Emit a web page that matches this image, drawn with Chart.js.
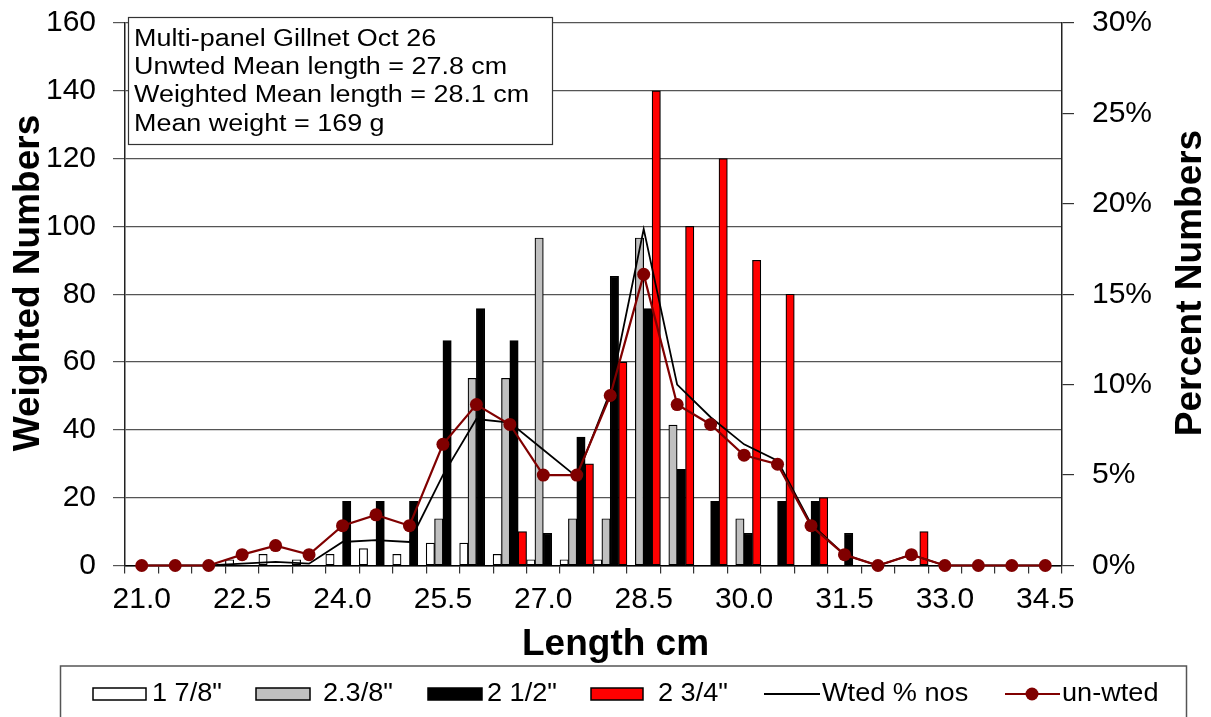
<!DOCTYPE html>
<html lang="en">
<head>
<meta charset="UTF-8">
<title>Multi-panel Gillnet Oct 26</title>
<script src="https://cdn.jsdelivr.net/npm/chart.js"></script>
<style>
  body { margin: 0; background: #fff; }
  .wrap { width: 1211px; height: 717px; position: relative; }
</style>
</head>
<body>
<div class="wrap"><canvas id="lengthChart"></canvas></div>
<script>
// length classes, cm
const lengths = ['21.0', '21.5', '22.0', '22.5', '23.0', '23.5', '24.0', '24.5', '25.0', '25.5',
                 '26.0', '26.5', '27.0', '27.5', '28.0', '28.5', '29.0', '29.5', '30.0', '30.5',
                 '31.0', '31.5', '32.0', '32.5', '33.0', '33.5', '34.0', '34.5'];

// weighted numbers per mesh size
const mesh178 = [0, 0, 0, 1.7, 3.3, 1.7, 3.3, 5.0, 3.3, 6.6, 6.6, 3.3, 1.7, 1.7, 1.7, 0, 0, 0, 0, 0, 0, 0, 0, 0, 0, 0, 0, 0];
const mesh238 = [0, 0, 0, 0, 0, 0, 0, 0, 0, 13.8, 55.2, 55.2, 96.6, 13.8, 13.8, 96.6, 41.4, 0, 13.8, 0, 0, 0, 0, 0, 0, 0, 0, 0];
const mesh212 = [0, 0, 0, 0, 0, 0, 18.9, 18.9, 18.9, 66.3, 75.8, 66.3, 9.5, 37.9, 85.3, 75.8, 28.4, 18.9, 9.5, 18.9, 18.9, 9.5, 0, 0, 0, 0, 0, 0];
const mesh234 = [0, 0, 0, 0, 0, 0, 0, 0, 0, 0, 0, 10, 0, 30, 60, 140, 100, 120, 90, 80, 20, 0, 0, 10, 0, 0, 0, 0];

// percent of numbers
const wtedPct = [0, 0, 0, 0.1, 0.2, 0.1, 1.3, 1.4, 1.3, 5.0, 8.1, 7.9, 6.4, 4.9, 9.6, 18.6, 10.0, 8.2, 6.7, 5.8, 2.3, 0.6, 0, 0.6, 0, 0, 0, 0];
const unwtedPct = [0, 0, 0, 0.6, 1.1, 0.6, 2.2, 2.8, 2.2, 6.7, 8.9, 7.8, 5.0, 5.0, 9.4, 16.1, 8.9, 7.8, 6.1, 5.6, 2.2, 0.6, 0, 0.6, 0, 0, 0, 0];

const boxLines = ['Multi-panel Gillnet Oct 26', 'Unwted Mean length = 27.8 cm',
                  'Weighted Mean length = 28.1 cm', 'Mean weight = 169 g'];

const FONT = '"Liberation Sans", Arial, sans-serif';
Chart.defaults.font.family = FONT;
Chart.defaults.color = '#000';

// text box, legend and axis titles drawn on top
const extras = {
    id: 'extras',
    afterDraw(chart) {
        const ctx = chart.ctx;
        ctx.save();

        // stats box
        ctx.fillStyle = '#fff';
        ctx.fillRect(128, 17.5, 424, 127);
        ctx.strokeStyle = '#333';
        ctx.lineWidth = 1.2;
        ctx.strokeRect(128.5, 17.5, 424, 127);
        ctx.fillStyle = '#000';
        ctx.font = '23px ' + FONT;
        ctx.textAlign = 'left';
        ctx.textBaseline = 'alphabetic';
        boxLines.forEach((t, i) => {
            ctx.save();
            ctx.translate(134, 46 + i * 28.2);
            ctx.scale(1.17, 1);
            ctx.fillText(t, 0, 0);
            ctx.restore();
        });

        // axis titles
        ctx.font = 'bold 37px ' + FONT;
        ctx.fillText('Length cm', 522, 655);
        ctx.textAlign = 'center';
        ctx.save();
        ctx.translate(39, 283);
        ctx.rotate(-Math.PI / 2);
        ctx.fillText('Weighted Numbers', 0, 0);
        ctx.restore();
        ctx.save();
        ctx.translate(1201, 283);
        ctx.rotate(-Math.PI / 2);
        ctx.fillText('Percent Numbers', 0, 0);
        ctx.restore();

        // legend
        ctx.strokeStyle = '#555';
        ctx.lineWidth = 1.5;
        ctx.strokeRect(60.5, 666, 1126, 80);
        const ds = chart.data.datasets;
        const ly = 694;
        const swatches = [[93, 146], [256, 310], [428, 482], [591, 643]];
        swatches.forEach((s, i) => {
            ctx.fillStyle = ds[i].backgroundColor;
            ctx.fillRect(s[0], ly - 6, s[1] - s[0], 12);
            ctx.strokeStyle = '#000';
            ctx.lineWidth = 1.5;
            ctx.strokeRect(s[0], ly - 6, s[1] - s[0], 12);
        });
        ctx.strokeStyle = ds[4].borderColor;
        ctx.lineWidth = 2;
        ctx.beginPath(); ctx.moveTo(764, ly); ctx.lineTo(820, ly); ctx.stroke();
        ctx.strokeStyle = ds[5].borderColor;
        ctx.beginPath(); ctx.moveTo(1005, ly); ctx.lineTo(1060, ly); ctx.stroke();
        ctx.fillStyle = ds[5].pointBackgroundColor;
        ctx.beginPath(); ctx.arc(1032, ly, 6.5, 0, Math.PI * 2); ctx.fill();

        ctx.fillStyle = '#000';
        ctx.font = '25px ' + FONT;
        ctx.textAlign = 'left';
        ctx.textBaseline = 'middle';
        const textX = [152, 323, 487, 658, 822, 1062];
        ds.forEach((d, i) => {
            ctx.save();
            ctx.translate(textX[i], ly);
            ctx.scale(1.085, 1);
            ctx.fillText(d.label, 0, 0);
            ctx.restore();
        });
        ctx.restore();
    }
};

const barStyle = {
    type: 'bar',
    yAxisID: 'y',
    borderColor: '#000',
    borderWidth: 1.2,
    borderSkipped: false,
    categoryPercentage: 1.0,
    barPercentage: 1.0,
    order: 2
};

// keep the plot area where it is, label overhang is room enough
const fixVertical = w => s => { s.width = w; s.paddingTop = 0; s.paddingBottom = 0; };

new Chart(document.getElementById('lengthChart'), {
    data: {
        labels: lengths,
        datasets: [
            { ...barStyle, label: '1 7/8"', data: mesh178, backgroundColor: '#ffffff' },
            { ...barStyle, label: '2.3/8"', data: mesh238, backgroundColor: '#c0c0c0' },
            { ...barStyle, label: '2 1/2"', data: mesh212, backgroundColor: '#000000' },
            { ...barStyle, label: '2 3/4"', data: mesh234, backgroundColor: '#ff0000' },
            {
                type: 'line', label: 'Wted % nos', data: wtedPct, yAxisID: 'y1',
                borderColor: '#000', borderWidth: 1.8, pointRadius: 0, tension: 0, order: 1
            },
            {
                type: 'line', label: 'un-wted', data: unwtedPct, yAxisID: 'y1',
                borderColor: '#800000', borderWidth: 2.2, pointRadius: 6.5,
                pointBackgroundColor: '#800000', pointBorderWidth: 0, tension: 0,
                clip: false, order: 0
            }
        ]
    },
    options: {
        responsive: true,
        maintainAspectRatio: false,
        animation: false,
        layout: { padding: { top: 23, bottom: 0, left: 0, right: 0 } },
        plugins: { legend: { display: false }, tooltip: { enabled: false } },
        scales: {
            x: {
                offset: true,
                grid: { offset: true, drawOnChartArea: false, drawTicks: true, tickLength: 8, color: '#333', lineWidth: 1.2 },
                border: { color: '#000', width: 1.5 },
                ticks: {
                    autoSkip: false, maxRotation: 0, padding: 8,
                    font: { size: 30 },
                    callback: (v, i) => (i % 3 === 0 ? lengths[i] : '')
                },
                afterFit: s => { s.height = 151.5; }
            },
            y: {
                position: 'left',
                min: 0, max: 160,
                grid: { color: '#555', lineWidth: 1.2, tickLength: 12 },
                border: { color: '#222', width: 1.5 },
                ticks: { stepSize: 20, padding: 17, font: { size: 30 } },
                afterFit: fixVertical(125)
            },
            y1: {
                position: 'right',
                min: 0, max: 30,
                grid: { drawOnChartArea: false, color: '#333', lineWidth: 1.2, tickLength: 12 },
                border: { color: '#222', width: 1.5 },
                ticks: { stepSize: 5, padding: 18, font: { size: 30 }, callback: v => v + '%' },
                afterFit: fixVertical(149)
            }
        }
    },
    plugins: [extras]
});
</script>
</body>
</html>
